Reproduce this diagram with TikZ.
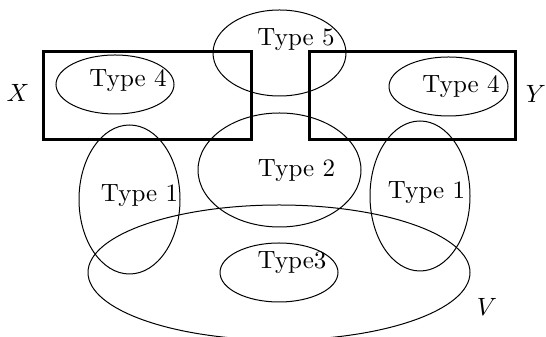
\documentclass[tikz,border=0pt]{standalone}
\begin{document}
\begin{tikzpicture}[x=0.4pt,y=-0.4pt,
  ring/.style={draw=black,line width=0.4pt},
  box/.style={draw=black,line width=1.2pt},
  lbl/.style={inner sep=0pt,anchor=base,font=\fontsize{10}{12}\selectfont}]
\useasboundingbox (0,0) rectangle (546,337);
\clip (0,0) rectangle (546,337);
% ellipses
\draw[ring] (115,84.5) ellipse [x radius=59,y radius=29.5];
\draw[ring] (448.5,86.5) ellipse [x radius=59.5,y radius=29.5];
\draw[ring] (279.5,53) ellipse [x radius=66.5,y radius=43];
\draw[ring] (279.5,170) ellipse [x radius=81.5,y radius=57];
\draw[ring] (129.5,199.5) ellipse [x radius=50.5,y radius=74.5];
\draw[ring] (420,196) ellipse [x radius=50,y radius=75];
\draw[ring] (279,272.5) ellipse [x radius=59,y radius=29.5];
\draw[ring] (279,272.5) ellipse [x radius=191,y radius=67.5];
% boxes
\draw[box] (43,52) rectangle (251,140);
\draw[box] (309,52) rectangle (515,140);
% labels
\node[lbl] (t4l) at (128,87) {Type 4};
\node[lbl] (t4r) at (461,93) {Type 4};
\node[lbl] (t5) at (296,46) {Type 5};
\node[lbl] (t2) at (296.5,177) {Type 2};
\node[lbl] (t1l) at (139.5,202) {Type 1};
\node[lbl] (t1r) at (426.5,199) {Type 1};
\node[lbl] (t3) at (292,269) {Type3};
\node[lbl] (x) at (18,102) {$X$};
\node[lbl] (y) at (536,103) {$Y$};
\node[lbl] (v) at (487,316) {$V$};
\end{tikzpicture}
\end{document}
